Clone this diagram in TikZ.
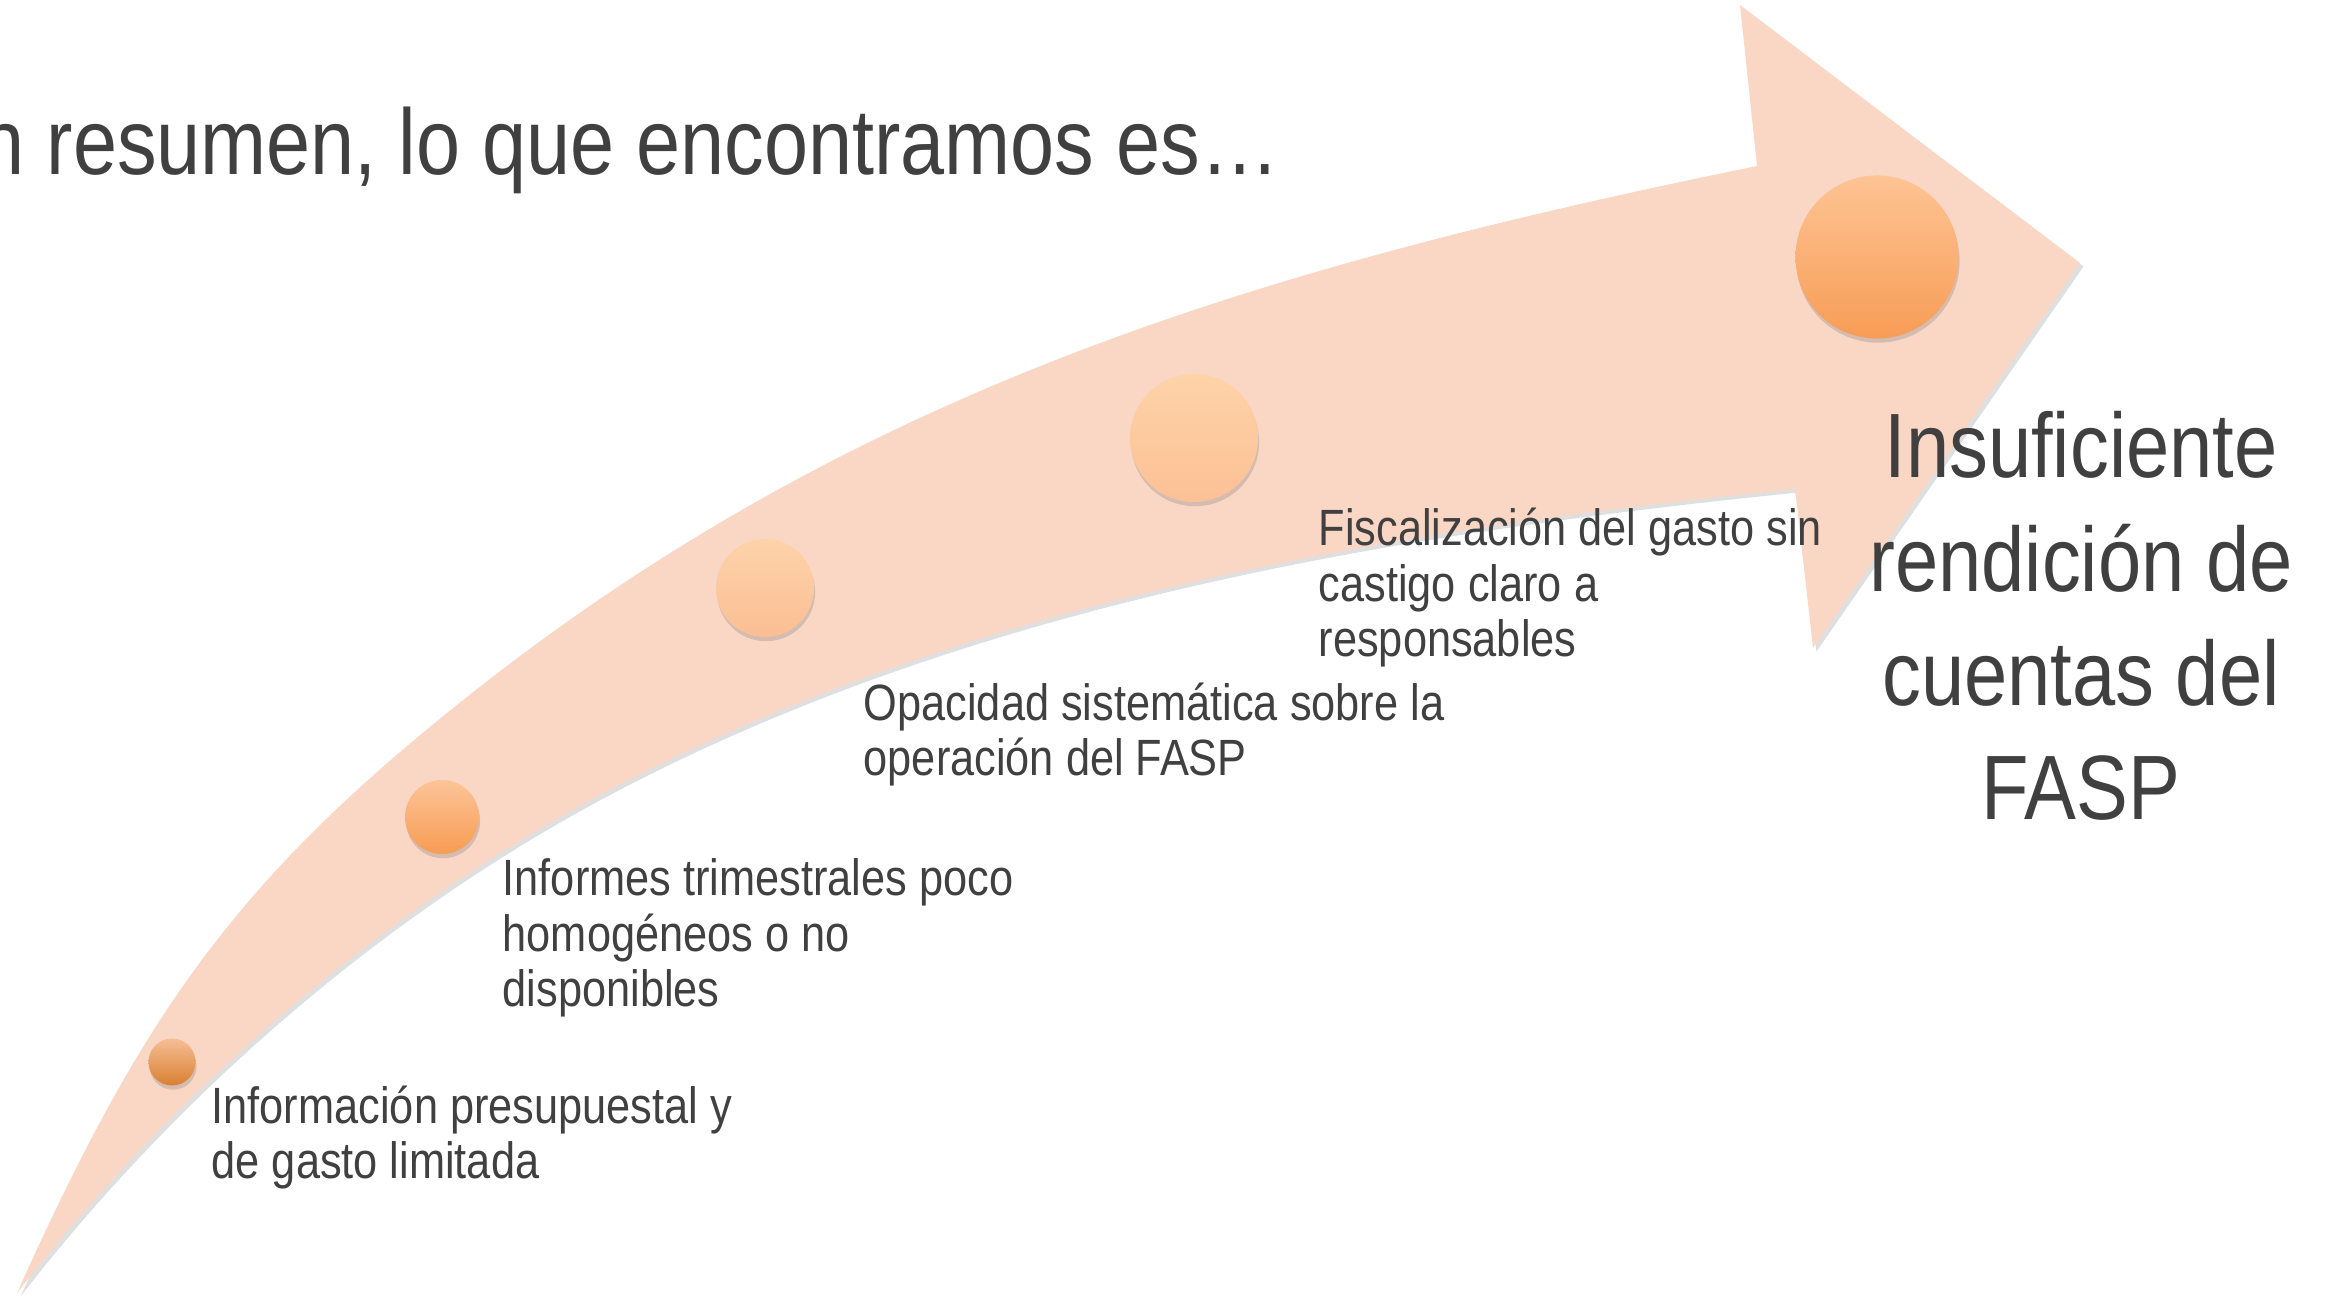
\documentclass[tikz,border=0pt]{standalone}
\usepackage{fontspec}
\setmainfont{Liberation Sans}[FakeStretch=0.85]
\usepackage{tikz}
\usetikzlibrary{shadows}
\usepackage{xcolor}

\definecolor{peach}{RGB}{250,215,197}
\definecolor{ink}{RGB}{64,64,64}

\begin{document}
\begin{tikzpicture} [
    x = 0.01cm, y = -0.01cm,
    inner sep = 0,
    dot/.style = { circle, draw = none, minimum size = #1,
        drop shadow={shadow xshift=0.3pt,shadow yshift=-1.2pt,opacity=0.3} },
    itemtext/.style = { anchor = base west, align = left, text = ink,
        font = \fontsize{14.5}{15.9}\selectfont },
    bigtext/.style = { anchor = base, align = center, text = ink,
        font = \fontsize{26}{32.5}\selectfont }
    ]

    \useasboundingbox (0,0) rectangle (2326,1298);

    % the curved arrow
    \fill [peach, drop shadow={shadow xshift=1pt,shadow yshift=-1pt,opacity=0.25}]
        (17,1293) .. controls (140,1020) and (232,883) .. (467,697)
        .. controls (857,387) and (1267,266) .. (1757,166)
        -- (1740,5) -- (2080,263) -- (1813,648) -- (1795,489)
        .. controls (1387,530) and (961,602) .. (600,795)
        .. controls (376,915) and (173,1092) .. (17,1293)
        -- cycle;

    \node [dot = 0.47cm, top color = {rgb,255:red,246;green,190;blue,150}, bottom color = {rgb,255:red,216;green,128;blue,48}] (d1) at (172,1062) {};
    \node [dot = 0.74cm, top color = {rgb,255:red,252;green,196;blue,152}, bottom color = {rgb,255:red,248;green,156;blue,84}] (d2) at (442,817) {};
    \node [dot = 0.98cm, top color = {rgb,255:red,253;green,211;blue,170}, bottom color = {rgb,255:red,251;green,190;blue,148}] (d3) at (765,588) {};
    \node [dot = 1.28cm, top color = {rgb,255:red,254;green,211;blue,168}, bottom color = {rgb,255:red,252;green,192;blue,150}] (d4) at (1194,438) {};
    \node [dot = 1.63cm, top color = {rgb,255:red,253;green,196;blue,148}, bottom color = {rgb,255:red,248;green,156;blue,86}] (d5) at (1877,257) {};

    \node [anchor = base west, text = ink, font = \fontsize{26.5}{30}\selectfont] (title) at (-20,175) {n resumen, lo que encontramos es…};

    % base = baseline of the last line
    \node [itemtext] (info) at (211,1179) {Información presupuestal y\\de gasto limitada};
    \node [itemtext] (informes) at (502,1007) {Informes trimestrales poco\\homogéneos o no\\disponibles};
    \node [itemtext] (opacidad) at (863,776) {Opacidad sistemática sobre la\\operación del FASP};
    \node [itemtext] (fiscal) at (1318,657) {Fiscalización del gasto sin\\castigo claro a\\responsables};

    \node [bigtext] (result) at (2081,820) {Insuficiente\\rendición de\\cuentas del\\FASP};

\end{tikzpicture}
\end{document}
